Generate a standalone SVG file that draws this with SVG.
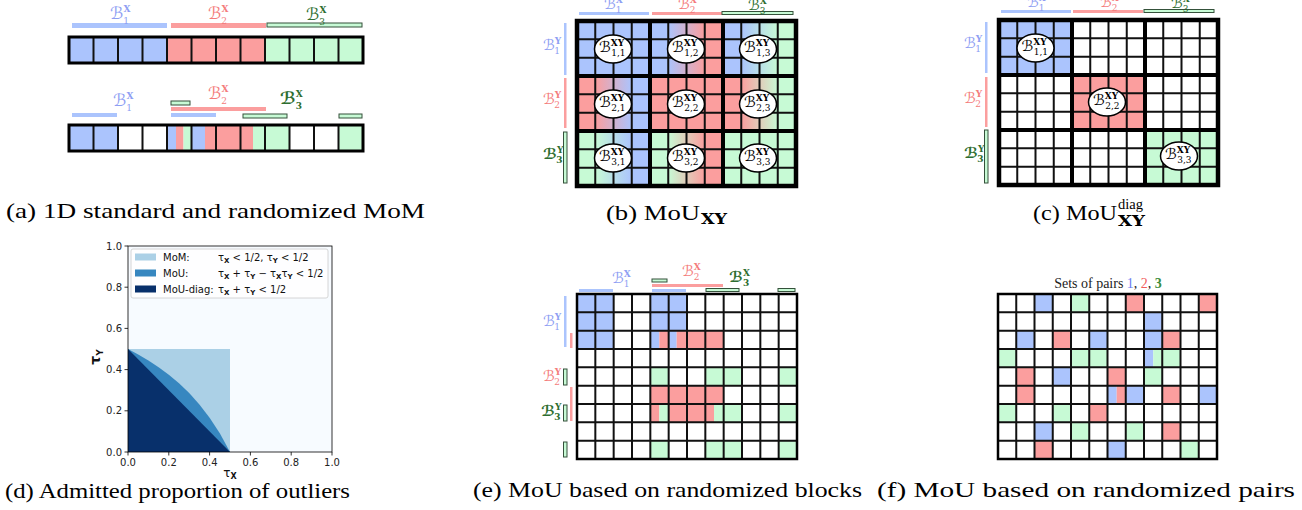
<svg xmlns="http://www.w3.org/2000/svg" width="1302" height="510" viewBox="0 0 1302 510">
<style>
.cb{fill:#abc4fd}.cr{fill:#fb9e9e}.cg{fill:#c7fad5}
.bb{fill:#abc4fd}.br{fill:#fb9e9e}.bg{fill:#c7fad5;stroke:#34513a;stroke-width:1}
.thin{fill:none;stroke:#111;stroke-width:2}
.thick{fill:none;stroke:#000;stroke-width:4}
.m{font-family:"DejaVu Serif","DejaVu Sans",serif;font-style:italic;font-size:17px}
.m14{font-family:"DejaVu Serif","DejaVu Sans",serif;font-style:italic;font-size:15px}
.sp{font-style:normal;font-weight:bold;font-size:9px}
.sb{font-style:normal;font-size:9px}
.tb{fill:#8e9ef3}.tr{fill:#f47c7c}.tg{fill:#2e6e30}
.el{fill:#fff;stroke:#000;stroke-width:1.5}
.cap{font-family:"Liberation Serif",serif;font-size:21px;fill:#000}
.tk{font-family:"DejaVu Sans",sans-serif;font-size:10px;fill:#222}
.lg{font-family:"DejaVu Sans",sans-serif;font-size:10px;fill:#111}
.ds{font-weight:bold;font-size:7px}
</style>
<defs>
<linearGradient id="gBR" x1="0.25" x2="0.75" y1="0" y2="0"><stop offset="0" stop-color="#abc4fd"/><stop offset="1" stop-color="#fb9e9e"/></linearGradient>
<linearGradient id="gBG" x1="0.25" x2="0.75" y1="0" y2="0"><stop offset="0" stop-color="#abc4fd"/><stop offset="1" stop-color="#c7fad5"/></linearGradient>
<linearGradient id="gRB" x1="0.25" x2="0.75" y1="0" y2="0"><stop offset="0" stop-color="#fb9e9e"/><stop offset="1" stop-color="#abc4fd"/></linearGradient>
<linearGradient id="gRG" x1="0.25" x2="0.75" y1="0" y2="0"><stop offset="0" stop-color="#fb9e9e"/><stop offset="1" stop-color="#c7fad5"/></linearGradient>
<linearGradient id="gGB" x1="0.25" x2="0.75" y1="0" y2="0"><stop offset="0" stop-color="#c7fad5"/><stop offset="1" stop-color="#abc4fd"/></linearGradient>
<linearGradient id="gGR" x1="0.25" x2="0.75" y1="0" y2="0"><stop offset="0" stop-color="#c7fad5"/><stop offset="1" stop-color="#fb9e9e"/></linearGradient>
</defs>
<rect width="1302" height="510" fill="#fff"/>

<!-- Panel (a) -->
<g id="panel-a">
<rect class="bb" x="72" y="23" width="95" height="5"/>
<rect class="br" x="171" y="23" width="95" height="5"/>
<rect class="bg" x="267" y="23" width="95" height="4"/>
<text class="m tb" x="110" y="19">ℬ<tspan class="sp" dy="-7">X</tspan><tspan class="sb" dx="-7" dy="12">1</tspan></text>
<text class="m tr" x="208" y="19">ℬ<tspan class="sp" dy="-7">X</tspan><tspan class="sb" dx="-7" dy="12">2</tspan></text>
<text class="m tg" x="306" y="20">ℬ<tspan class="sp" dy="-7">X</tspan><tspan class="sb" dx="-7" dy="12">3</tspan></text>
<rect class="cb" x="69" y="37" width="98" height="26"/>
<rect class="cr" x="167" y="37" width="98" height="26"/>
<rect class="cg" x="265" y="37" width="98" height="26"/>
<path class="thin" d="M93.5 37V63M118 37V63M142.5 37V63M167 37V63M191.5 37V63M216 37V63M240.5 37V63M265 37V63M289.5 37V63M314 37V63M338.5 37V63"/>
<rect x="69" y="37" width="294" height="26" fill="none" stroke="#000" stroke-width="3"/>

<rect class="bg" x="171" y="101" width="19" height="4"/>
<rect class="br" x="171" y="107" width="95" height="4"/>
<rect class="bb" x="72" y="113" width="45" height="4"/>
<rect class="bb" x="171" y="113" width="45" height="4"/>
<rect class="bg" x="243" y="114" width="44" height="4"/>
<rect class="bg" x="339" y="114" width="23" height="4"/>
<text class="m tb" x="113" y="106">ℬ<tspan class="sp" dy="-7">X</tspan><tspan class="sb" dx="-7" dy="12">1</tspan></text>
<text class="m tr" x="208" y="99">ℬ<tspan class="sp" dy="-7">X</tspan><tspan class="sb" dx="-7" dy="12">2</tspan></text>
<text class="m tg" x="280" y="104" font-weight="bold">ℬ<tspan class="sp" dy="-7">X</tspan><tspan class="sb" dx="-7" dy="12">3</tspan></text>
<rect class="cb" x="69" y="125" width="49" height="26"/>
<rect class="cb" x="167" y="125" width="9" height="26"/>
<rect class="cr" x="176" y="125" width="7.5" height="26"/>
<rect class="cg" x="183.5" y="125" width="8" height="26"/>
<rect class="cb" x="191.5" y="125" width="13.5" height="26"/>
<rect class="cr" x="205" y="125" width="48" height="26"/>
<rect class="cg" x="253" y="125" width="36.5" height="26"/>
<rect class="cg" x="338.5" y="125" width="24.5" height="26"/>
<path class="thin" d="M93.5 125V151M118 125V151M142.5 125V151M167 125V151M191.5 125V151M216 125V151M240.5 125V151M265 125V151M289.5 125V151M314 125V151M338.5 125V151"/>
<rect x="69" y="125" width="294" height="26" fill="none" stroke="#000" stroke-width="3"/>
</g>

<!-- Panel (b) -->
<g id="panel-b">
<rect class="bb" x="579" y="12" width="70" height="3"/>
<rect class="br" x="652" y="12" width="70" height="3"/>
<rect class="bg" x="722" y="11.5" width="71" height="3"/>
<text class="m14 tb" x="604" y="9">ℬ<tspan class="sp" dy="-6">X</tspan><tspan class="sb" dx="-7" dy="10">1</tspan></text>
<text class="m14 tr" x="678" y="9">ℬ<tspan class="sp" dy="-6">X</tspan><tspan class="sb" dx="-7" dy="10">2</tspan></text>
<text class="m14 tg" x="748" y="10">ℬ<tspan class="sp" dy="-6">X</tspan><tspan class="sb" dx="-7" dy="10">3</tspan></text>
<rect class="bb" x="564" y="23" width="2.5" height="52"/>
<rect class="br" x="564" y="78" width="2.5" height="50"/>
<rect class="bg" x="563.5" y="132" width="3.5" height="51"/>
<text class="m14 tb" x="543" y="50">ℬ<tspan class="sp" dy="-6">Y</tspan><tspan class="sb" dx="-7" dy="10">1</tspan></text>
<text class="m14 tr" x="543" y="104">ℬ<tspan class="sp" dy="-6">Y</tspan><tspan class="sb" dx="-7" dy="10">2</tspan></text>
<text class="m14 tg" x="543" y="159" font-weight="bold">ℬ<tspan class="sp" dy="-6">Y</tspan><tspan class="sb" dx="-7" dy="10">3</tspan></text>
<rect class="cb" x="577" y="21" width="73" height="55"/>
<rect fill="url(#gBR)" x="650" y="21" width="73" height="55"/>
<rect fill="url(#gBG)" x="723" y="21" width="73" height="55"/>
<rect fill="url(#gRB)" x="577" y="76" width="73" height="55"/>
<rect class="cr" x="650" y="76" width="73" height="55"/>
<rect fill="url(#gRG)" x="723" y="76" width="73" height="55"/>
<rect fill="url(#gGB)" x="577" y="131" width="73" height="55"/>
<rect fill="url(#gGR)" x="650" y="131" width="73" height="55"/>
<rect class="cg" x="723" y="131" width="73" height="55"/>
<path class="thin" d="M595.25 21V186M613.5 21V186M631.75 21V186M668.25 21V186M686.5 21V186M704.75 21V186M741.25 21V186M759.5 21V186M777.75 21V186M577 39.33H796M577 57.67H796M577 94.33H796M577 112.67H796M577 149.33H796M577 167.67H796"/>
<path class="thick" d="M650 21V186M723 21V186M577 76H796M577 131H796"/>
<rect x="577" y="21" width="219" height="165" fill="none" stroke="#000" stroke-width="4.5"/>
</g>
<g id="ellipses-b">
<ellipse class="el" cx="613" cy="49" rx="18.5" ry="14"/>
<ellipse class="el" cx="686" cy="49" rx="18.5" ry="14"/>
<ellipse class="el" cx="758" cy="49" rx="18.5" ry="14"/>
<ellipse class="el" cx="613" cy="104" rx="18.5" ry="14"/>
<ellipse class="el" cx="686" cy="104" rx="18.5" ry="14"/>
<ellipse class="el" cx="758" cy="104" rx="18.5" ry="14"/>
<ellipse class="el" cx="613" cy="158" rx="18.5" ry="14"/>
<ellipse class="el" cx="686" cy="158" rx="18.5" ry="14"/>
<ellipse class="el" cx="758" cy="158" rx="18.5" ry="14"/>
<text class="m14" x="599" y="52">ℬ<tspan class="sp" dy="-6">XY</tspan><tspan class="sb" dx="-13" dy="10">1,1</tspan></text>
<text class="m14" x="672" y="52">ℬ<tspan class="sp" dy="-6">XY</tspan><tspan class="sb" dx="-13" dy="10">1,2</tspan></text>
<text class="m14" x="744" y="52">ℬ<tspan class="sp" dy="-6">XY</tspan><tspan class="sb" dx="-13" dy="10">1,3</tspan></text>
<text class="m14" x="599" y="107">ℬ<tspan class="sp" dy="-6">XY</tspan><tspan class="sb" dx="-13" dy="10">2,1</tspan></text>
<text class="m14" x="672" y="107">ℬ<tspan class="sp" dy="-6">XY</tspan><tspan class="sb" dx="-13" dy="10">2,2</tspan></text>
<text class="m14" x="744" y="107">ℬ<tspan class="sp" dy="-6">XY</tspan><tspan class="sb" dx="-13" dy="10">2,3</tspan></text>
<text class="m14" x="599" y="161">ℬ<tspan class="sp" dy="-6">XY</tspan><tspan class="sb" dx="-13" dy="10">3,1</tspan></text>
<text class="m14" x="672" y="161">ℬ<tspan class="sp" dy="-6">XY</tspan><tspan class="sb" dx="-13" dy="10">3,2</tspan></text>
<text class="m14" x="744" y="161">ℬ<tspan class="sp" dy="-6">XY</tspan><tspan class="sb" dx="-13" dy="10">3,3</tspan></text>
</g>

<!-- Panel (c) -->
<g id="panel-c">
<rect class="bb" x="1001" y="10" width="70" height="3"/>
<rect class="br" x="1073" y="10" width="70" height="3"/>
<rect class="bg" x="1144" y="9.5" width="70" height="3"/>
<text class="m14 tb" x="1027" y="7">ℬ<tspan class="sp" dy="-6">X</tspan><tspan class="sb" dx="-7" dy="10">1</tspan></text>
<text class="m14 tr" x="1100" y="7">ℬ<tspan class="sp" dy="-6">X</tspan><tspan class="sb" dx="-7" dy="10">2</tspan></text>
<text class="m14 tg" x="1171" y="8">ℬ<tspan class="sp" dy="-6">X</tspan><tspan class="sb" dx="-7" dy="10">3</tspan></text>
<rect class="bb" x="985" y="22" width="2.5" height="51"/>
<rect class="br" x="985" y="77" width="2.5" height="50"/>
<rect class="bg" x="984.5" y="130" width="3.5" height="53"/>
<text class="m14 tb" x="964" y="48">ℬ<tspan class="sp" dy="-6">Y</tspan><tspan class="sb" dx="-7" dy="10">1</tspan></text>
<text class="m14 tr" x="964" y="103">ℬ<tspan class="sp" dy="-6">Y</tspan><tspan class="sb" dx="-7" dy="10">2</tspan></text>
<text class="m14 tg" x="964" y="158" font-weight="bold">ℬ<tspan class="sp" dy="-6">Y</tspan><tspan class="sb" dx="-7" dy="10">3</tspan></text>
<rect class="cb" x="999" y="20" width="73" height="55"/>
<rect class="cr" x="1072" y="75" width="73" height="55"/>
<rect class="cg" x="1145" y="130" width="73" height="55"/>
<path class="thin" d="M1017.25 20V185M1035.5 20V185M1053.75 20V185M1090.25 20V185M1108.5 20V185M1126.75 20V185M1163.25 20V185M1181.5 20V185M1199.75 20V185M999 38.33H1218M999 56.67H1218M999 93.33H1218M999 111.67H1218M999 148.33H1218M999 166.67H1218"/>
<path class="thick" d="M1072 20V185M1145 20V185M999 75H1218M999 130H1218"/>
<rect x="999" y="20" width="219" height="165" fill="none" stroke="#000" stroke-width="4.5"/>
</g>
<g id="ellipses-c">
<ellipse class="el" cx="1035.5" cy="48" rx="18.5" ry="14"/>
<ellipse class="el" cx="1107" cy="102" rx="18.5" ry="14"/>
<ellipse class="el" cx="1179" cy="156" rx="18.5" ry="14"/>
<text class="m14" x="1021.5" y="51">ℬ<tspan class="sp" dy="-6">XY</tspan><tspan class="sb" dx="-13" dy="10">1,1</tspan></text>
<text class="m14" x="1093" y="105">ℬ<tspan class="sp" dy="-6">XY</tspan><tspan class="sb" dx="-13" dy="10">2,2</tspan></text>
<text class="m14" x="1165" y="159">ℬ<tspan class="sp" dy="-6">XY</tspan><tspan class="sb" dx="-13" dy="10">3,3</tspan></text>
</g>

<!-- Panel (d) -->
<g id="panel-d">
<rect x="128" y="246" width="204" height="206" fill="#f7fbff"/>
<rect x="128" y="349" width="102" height="103" fill="#abd0e6"/>
<path fill="#3787c0" d="M128 452L128 349L138.2 354.4L148.4 360.4L158.6 367.2L168.8 374.75L179 383.3L189.2 393.1L199.4 404.5L209.6 417.7L219.8 433.3L230 452Z"/>
<path fill="#08306b" d="M128 452L128 349L230 452Z"/>
<rect x="128" y="246" width="204" height="206" fill="none" stroke="#000" stroke-width="0.8"/>
<path stroke="#000" stroke-width="0.8" d="M124.5 452H128M124.5 410.8H128M124.5 369.6H128M124.5 328.4H128M124.5 287.2H128M124.5 246H128M128 452V455.5M168.8 452V455.5M209.6 452V455.5M250.4 452V455.5M291.2 452V455.5M332 452V455.5"/>
<g class="tk" text-anchor="end">
<text x="122" y="455.5">0.0</text><text x="122" y="414.3">0.2</text><text x="122" y="373.1">0.4</text><text x="122" y="331.9">0.6</text><text x="122" y="290.7">0.8</text><text x="122" y="249.5">1.0</text>
</g>
<g class="tk" text-anchor="middle">
<text x="128" y="466">0.0</text><text x="168.8" y="466">0.2</text><text x="209.6" y="466">0.4</text><text x="250.4" y="466">0.6</text><text x="291.2" y="466">0.8</text><text x="332" y="466">1.0</text>
</g>
<text font-family="DejaVu Sans,sans-serif" font-size="14" font-weight="bold" fill="#111" transform="translate(100 357) rotate(-90)" text-anchor="middle">τ<tspan font-size="9" dy="3">Y</tspan></text>
<text font-family="DejaVu Sans,sans-serif" font-size="12" fill="#111" x="230" y="477" text-anchor="middle">τ<tspan font-size="8" font-weight="bold" dy="2">X</tspan></text>
<rect x="131" y="249" width="197" height="49" rx="2" fill="#fff" fill-opacity="0.8" stroke="#ccc" stroke-width="0.8"/>
<rect x="135" y="253.5" width="21" height="7" fill="#abd0e6"/>
<rect x="135" y="269.5" width="21" height="7" fill="#3787c0"/>
<rect x="135" y="285.5" width="21" height="7" fill="#08306b"/>
<text class="lg" x="163" y="261">MoM:</text>
<text class="lg" x="218" y="261">τ<tspan class="ds" dy="2">X</tspan><tspan dy="-2"> &lt; 1/2, τ</tspan><tspan class="ds" dy="2">Y</tspan><tspan dy="-2"> &lt; 1/2</tspan></text>
<text class="lg" x="163" y="277">MoU:</text>
<text class="lg" x="218" y="277">τ<tspan class="ds" dy="2">X</tspan><tspan dy="-2"> + τ</tspan><tspan class="ds" dy="2">Y</tspan><tspan dy="-2"> − τ</tspan><tspan class="ds" dy="2">X</tspan><tspan dy="-2">τ</tspan><tspan class="ds" dy="2">Y</tspan><tspan dy="-2"> &lt; 1/2</tspan></text>
<text class="lg" x="163" y="293">MoU-diag:</text>
<text class="lg" x="218" y="293">τ<tspan class="ds" dy="2">X</tspan><tspan dy="-2"> + τ</tspan><tspan class="ds" dy="2">Y</tspan><tspan dy="-2"> &lt; 1/2</tspan></text>
</g>

<!-- Panel (e) -->
<g id="panel-e">
<rect class="bg" x="652" y="279" width="15" height="3"/>
<rect class="br" x="652" y="284" width="71" height="3"/>
<rect class="bb" x="579" y="289" width="34" height="3"/>
<rect class="bb" x="652" y="289" width="34" height="3"/>
<rect class="bg" x="706" y="288.5" width="33" height="3"/>
<rect class="bg" x="778" y="288.5" width="17" height="3"/>
<text class="m14 tb" x="612" y="283">ℬ<tspan class="sp" dy="-6">X</tspan><tspan class="sb" dx="-7" dy="10">1</tspan></text>
<text class="m14 tr" x="682" y="276">ℬ<tspan class="sp" dy="-6">X</tspan><tspan class="sb" dx="-7" dy="10">2</tspan></text>
<text class="m14 tg" x="729" y="282" font-weight="bold">ℬ<tspan class="sp" dy="-6">X</tspan><tspan class="sb" dx="-7" dy="10">3</tspan></text>
<rect class="bb" x="564" y="296" width="2.5" height="51"/>
<rect class="br" x="570" y="333" width="2.5" height="15"/>
<rect class="bg" x="563.5" y="369" width="3.5" height="16"/>
<rect class="br" x="570" y="387" width="2.5" height="34"/>
<rect class="bg" x="563.5" y="405" width="3.5" height="16"/>
<rect class="bg" x="563.5" y="442" width="3.5" height="15"/>
<text class="m14 tb" x="543" y="326">ℬ<tspan class="sp" dy="-6">Y</tspan><tspan class="sb" dx="-7" dy="10">1</tspan></text>
<text class="m14 tr" x="543" y="381">ℬ<tspan class="sp" dy="-6">Y</tspan><tspan class="sb" dx="-7" dy="10">2</tspan></text>
<text class="m14 tg" x="541" y="416" font-weight="bold">ℬ<tspan class="sp" dy="-6">Y</tspan><tspan class="sb" dx="-7" dy="10">3</tspan></text>
<rect class="cb" x="577" y="294" width="36.67" height="55"/>
<rect class="cb" x="650.33" y="294" width="36.67" height="36.67"/>
<rect class="cb" x="650.33" y="330.67" width="9" height="18.33"/>
<rect class="cb" x="668.67" y="330.67" width="8" height="18.33"/>
<rect class="cr" x="659.33" y="330.67" width="9.34" height="18.33"/>
<rect class="cr" x="676.67" y="330.67" width="47" height="18.33"/>
<rect class="cr" x="650.33" y="385.67" width="73.34" height="18.33"/>
<rect class="cr" x="650.33" y="404" width="9" height="18.33"/>
<rect class="cr" x="668.67" y="404" width="45.33" height="18.33"/>
<rect class="cg" x="650.33" y="367.33" width="18.34" height="18.34"/>
<rect class="cg" x="705.33" y="367.33" width="36.67" height="18.34"/>
<rect class="cg" x="778.67" y="367.33" width="18.33" height="18.34"/>
<rect class="cg" x="659.33" y="404" width="9.34" height="18.33"/>
<rect class="cg" x="714" y="404" width="28" height="18.33"/>
<rect class="cg" x="778.67" y="404" width="18.33" height="18.33"/>
<rect class="cg" x="650.33" y="440.67" width="18.34" height="18.33"/>
<rect class="cg" x="705.33" y="440.67" width="36.67" height="18.33"/>
<rect class="cg" x="778.67" y="440.67" width="18.33" height="18.33"/>
<path class="thin" d="M595.33 294V459M613.67 294V459M632 294V459M650.33 294V459M668.67 294V459M687 294V459M705.33 294V459M723.67 294V459M742 294V459M760.33 294V459M778.67 294V459M577 312.33H797M577 330.67H797M577 349H797M577 367.33H797M577 385.67H797M577 404H797M577 422.33H797M577 440.67H797"/>
<rect x="577" y="294" width="220" height="165" fill="none" stroke="#000" stroke-width="2.5"/>
</g>

<!-- Panel (f) -->
<g id="panel-f">
<text x="1108" y="288" text-anchor="middle" font-family="Liberation Serif,serif" font-size="14" fill="#222">Sets of pairs <tspan fill="#6a7cf2">1</tspan>, <tspan fill="#f25c5c">2</tspan>, <tspan fill="#3c8c3c" font-weight="bold">3</tspan></text>
<g class="cb">
<rect x="1034.5" y="294" width="18.25" height="18.33"/>
<rect x="1144" y="312.33" width="18.25" height="18.34"/>
<rect x="1016.25" y="330.67" width="18.25" height="18.33"/>
<rect x="1089.25" y="330.67" width="18.25" height="18.33"/>
<rect x="1144" y="330.67" width="18.25" height="18.33"/>
<rect x="1144" y="349" width="9.3" height="18.33"/>
<rect x="1052.75" y="367.33" width="18.25" height="18.34"/>
<rect x="1107.5" y="385.67" width="9.2" height="18.33"/>
<rect x="1125.75" y="385.67" width="18.25" height="18.33"/>
<rect x="1198.75" y="385.67" width="18.25" height="18.33"/>
<rect x="1034.5" y="422.33" width="18.25" height="18.34"/>
<rect x="1107.5" y="440.67" width="18.25" height="18.33"/>
</g>
<g class="cr">
<rect x="1125.75" y="294" width="18.25" height="18.33"/>
<rect x="1198.75" y="294" width="18.25" height="18.33"/>
<rect x="1052.75" y="330.67" width="18.25" height="18.33"/>
<rect x="1162.25" y="330.67" width="18.25" height="18.33"/>
<rect x="1016.25" y="367.33" width="18.25" height="18.34"/>
<rect x="1107.5" y="367.33" width="18.25" height="18.34"/>
<rect x="1016.25" y="385.67" width="18.25" height="18.33"/>
<rect x="1116.7" y="385.67" width="9.05" height="18.33"/>
<rect x="1162.25" y="385.67" width="18.25" height="18.33"/>
<rect x="1089.25" y="404" width="18.25" height="18.33"/>
<rect x="1162.25" y="422.33" width="18.25" height="18.34"/>
<rect x="1034.5" y="440.67" width="18.25" height="18.33"/>
</g>
<g class="cg">
<rect x="1071" y="294" width="18.25" height="18.33"/>
<rect x="998" y="349" width="18.25" height="18.33"/>
<rect x="1071" y="349" width="36.5" height="18.33"/>
<rect x="1153.3" y="349" width="27.2" height="18.33"/>
<rect x="1144" y="367.33" width="18.25" height="18.34"/>
<rect x="998" y="404" width="18.25" height="18.33"/>
<rect x="1052.75" y="404" width="18.25" height="18.33"/>
<rect x="1071" y="422.33" width="18.25" height="18.34"/>
<rect x="1125.75" y="422.33" width="18.25" height="18.34"/>
<rect x="1180.5" y="440.67" width="18.25" height="18.33"/>
</g>
<path class="thin" d="M1016.25 294V459M1034.5 294V459M1052.75 294V459M1071 294V459M1089.25 294V459M1107.5 294V459M1125.75 294V459M1144 294V459M1162.25 294V459M1180.5 294V459M1198.75 294V459M998 312.33H1217M998 330.67H1217M998 349H1217M998 367.33H1217M998 385.67H1217M998 404H1217M998 422.33H1217M998 440.67H1217"/>
<rect x="998" y="294" width="219" height="165" fill="none" stroke="#000" stroke-width="2.5"/>
</g>

<!-- Captions -->
<g id="captions">
<text class="cap" x="6" y="218" textLength="419" lengthAdjust="spacingAndGlyphs">(a) 1D standard and randomized MoM</text>
<text class="cap" x="606" y="220" textLength="94" lengthAdjust="spacingAndGlyphs">(b) MoU</text>
<text x="701" y="224" font-family="DejaVu Serif,serif" font-weight="bold" font-size="14" textLength="26" lengthAdjust="spacingAndGlyphs">XY</text>
<text class="cap" x="1033" y="220" textLength="84" lengthAdjust="spacingAndGlyphs">(c) MoU</text>
<text x="1118" y="209" font-family="Liberation Serif,serif" font-size="14" textLength="25" lengthAdjust="spacingAndGlyphs">diag</text>
<text x="1118" y="226" font-family="DejaVu Serif,serif" font-weight="bold" font-size="14" textLength="27" lengthAdjust="spacingAndGlyphs">XY</text>
<text class="cap" x="5" y="498" textLength="345" lengthAdjust="spacingAndGlyphs">(d) Admitted proportion of outliers</text>
<text class="cap" x="473" y="497" textLength="389" lengthAdjust="spacingAndGlyphs">(e) MoU based on randomized blocks</text>
<text class="cap" x="877" y="497" textLength="418" lengthAdjust="spacingAndGlyphs">(f) MoU based on randomized pairs</text>
</g>
</svg>
